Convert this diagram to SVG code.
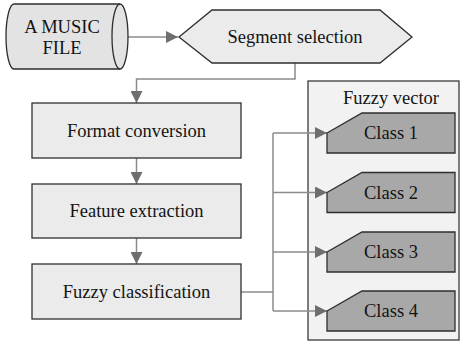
<svg xmlns="http://www.w3.org/2000/svg" width="461" height="342" viewBox="0 0 461 342">
<style>
text{font-family:"Liberation Serif","Times New Roman","DejaVu Serif",serif;font-size:18.5px;fill:#141414;text-anchor:middle;dominant-baseline:central}
.box{fill:#ebebeb;stroke:#2e2e2e;stroke-width:1.3}
.cls{fill:#a8a8a8;stroke:#2e2e2e;stroke-width:1.3}
.con{fill:none;stroke:#8c8c8c;stroke-width:1.5}
</style>
<defs>
<marker id="ah" markerUnits="userSpaceOnUse" markerWidth="13" markerHeight="12" refX="12" refY="6" orient="auto">
<path d="M0,0 L12,6 L0,12 Z" fill="#6e6e6e"/>
</marker>
</defs>
<rect width="461" height="342" fill="#ffffff"/>
<g id="panel">
<rect x="308" y="81" width="151" height="259" fill="#f2f2f2" stroke="#3a3a3a" stroke-width="1.3"/>
<text x="391" y="98">Fuzzy vector</text>
</g>
<g id="connectors">
<path class="con" d="M128,37 H178" marker-end="url(#ah)"/>
<path class="con" d="M295,63 V79 H136.5 V103" marker-end="url(#ah)"/>
<path class="con" d="M136.5,158 V184" marker-end="url(#ah)"/>
<path class="con" d="M136.5,238 V264" marker-end="url(#ah)"/>
<path class="con" d="M241,292 H273"/>
<path class="con" d="M273,133 V311"/>
<path class="con" d="M273,133 H327" marker-end="url(#ah)"/>
<path class="con" d="M273,192.5 H327" marker-end="url(#ah)"/>
<path class="con" d="M273,252 H327" marker-end="url(#ah)"/>
<path class="con" d="M273,311 H327" marker-end="url(#ah)"/>
</g>
<g id="music-file">
<path d="M14,4 H120 A8,32.5 0 0 1 120,69 H14 A8,32.5 0 0 1 14,4 Z" fill="#e3e3e3" stroke="#2e2e2e" stroke-width="1.3"/>
<path d="M120,4 A8,32.5 0 0 0 120,69" fill="none" stroke="#2e2e2e" stroke-width="1.3"/>
<text x="62" y="27">A MUSIC</text>
<text x="62" y="48">FILE</text>
</g>
<g id="segment-selection">
<path class="box" d="M179,37 L212,10 H380 L412,37 L380,63 H212 Z"/>
<text x="295" y="37">Segment selection</text>
</g>
<g id="format-conversion">
<rect class="box" x="32" y="103" width="209" height="55"/>
<text x="136.5" y="130.5">Format conversion</text>
</g>
<g id="feature-extraction">
<rect class="box" x="32" y="184" width="209" height="54"/>
<text x="136.5" y="211">Feature extraction</text>
</g>
<g id="fuzzy-classification">
<rect class="box" x="32" y="264" width="209" height="55"/>
<text x="136.5" y="291.5">Fuzzy classification</text>
</g>
<g id="class-1">
<path class="cls" d="M327,133 L362,113 H455 V153 H327 Z"/>
<text x="391" y="133">Class 1</text>
</g>
<g id="class-2">
<path class="cls" d="M327,192.5 L362,172.5 H455 V212.5 H327 Z"/>
<text x="391" y="192.5">Class 2</text>
</g>
<g id="class-3">
<path class="cls" d="M327,252 L362,232 H455 V272 H327 Z"/>
<text x="391" y="252">Class 3</text>
</g>
<g id="class-4">
<path class="cls" d="M327,311 L362,291 H455 V331 H327 Z"/>
<text x="391" y="311">Class 4</text>
</g>
</svg>
